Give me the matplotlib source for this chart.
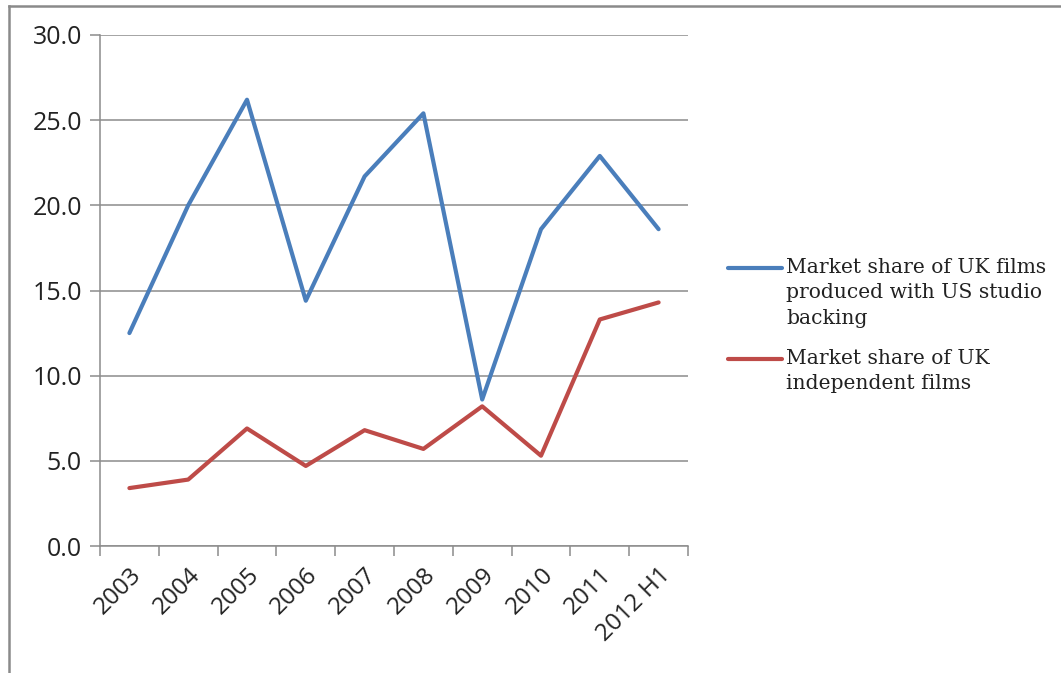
"""UK film market share chart."""

import matplotlib
matplotlib.use("Agg")
import matplotlib.pyplot as plt
from matplotlib.lines import Line2D

years = ["2003", "2004", "2005", "2006", "2007", "2008", "2009", "2010", "2011", "2012 H1"]
us_backed = [12.5, 20.0, 26.2, 14.4, 21.7, 25.4, 8.6, 18.6, 22.9, 18.6]
independent = [3.4, 3.9, 6.9, 4.7, 6.8, 5.7, 8.2, 5.3, 13.3, 14.3]
y_ticks = [0, 5, 10, 15, 20, 25, 30]

BLUE = "#4a7ebb"
RED = "#be4b48"
GRID = "#8c8c8c"
W, H = 1061, 673

fig = plt.figure(figsize=(W / 100, H / 100), dpi=100)
ax = fig.add_axes([100 / W, 1 - 546 / H, 588 / W, 511 / H])

x = list(range(len(years)))
ax.plot(x, us_backed, color=BLUE, lw=3.0, solid_capstyle="round", solid_joinstyle="round")
ax.plot(x, independent, color=RED, lw=3.0, solid_capstyle="round", solid_joinstyle="round")

ax.set_xlim(-0.5, len(years) - 0.5)
ax.set_ylim(0, 30)
ax.set_yticks(y_ticks)
ax.set_yticklabels([f"{v:.1f}" for v in y_ticks], fontsize=18, family="Open Sans", color="#222222")
ax.yaxis.grid(True, color=GRID, lw=1.1)
ax.set_axisbelow(True)
ax.tick_params(axis="y", length=7, color=GRID, width=1.1, pad=6)

ax.set_xticks(x)
ax.set_xticklabels(years, rotation=45, ha="right", va="top", rotation_mode="anchor",
                   fontsize=17.5, family="Open Sans", color="#222222")
ax.set_xticks([i - 0.5 for i in range(len(years) + 1)], minor=True)
ax.tick_params(axis="x", which="major", length=0, pad=12)
ax.tick_params(axis="x", which="minor", length=7, color=GRID, width=1.1)

for side in ("top", "right"):
    ax.spines[side].set_visible(False)
for side in ("left", "bottom"):
    ax.spines[side].set_color(GRID)
    ax.spines[side].set_linewidth(1.1)

# outer frame
fig.add_artist(Line2D([9 / W, 9 / W], [0, 1 - 6 / H], color="#8a8a8a", lw=1.8))
fig.add_artist(Line2D([9 / W, 1], [1 - 6 / H, 1 - 6 / H], color="#8a8a8a", lw=1.8))

# legend
entries = [
    (BLUE, 268, "Market share of UK films\nproduced with US studio\nbacking"),
    (RED, 359, "Market share of UK\nindependent films"),
]
for color, ypix, label in entries:
    fig.add_artist(Line2D([728 / W, 782 / W], [1 - ypix / H, 1 - ypix / H], color=color, lw=3.0,
                          solid_capstyle="round"))
    fig.text(786 / W, 1 - (ypix - 10) / H, label, fontsize=14.6, family="DejaVu Serif",
             color="#222222", va="top", ha="left", linespacing=1.42)

fig.savefig("out.png", dpi=100)
